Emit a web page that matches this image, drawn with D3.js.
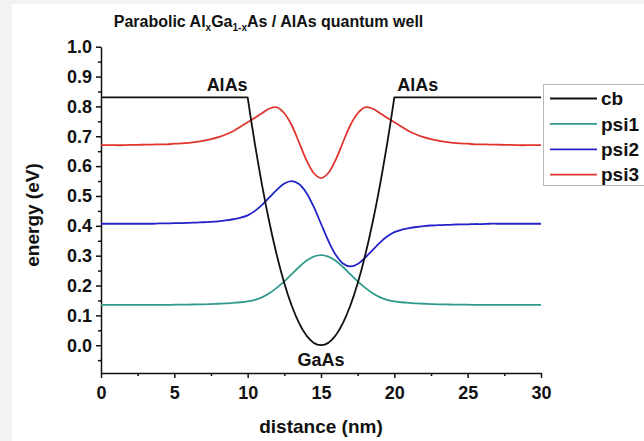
<!DOCTYPE html>
<html>
<head>
<meta charset="utf-8">
<script src="https://cdn.jsdelivr.net/npm/d3@7"></script>
<style>
  html, body { margin: 0; padding: 0; background: #f2f2f2; }
  svg { display: block; font-family: "Liberation Sans", Arial, sans-serif; }
</style>
</head>
<body>
<svg id="chart" width="644" height="441"></svg>
<script>
// Position along the structure (nm), sampled every 0.5 nm for the wavefunctions
const distance = [
  0, 0.5, 1, 1.5, 2, 2.5, 3, 3.5, 4, 4.5, 5, 5.5, 6, 6.5, 7, 7.5, 8, 8.5, 9, 9.5,
  10, 10.5, 11, 11.5, 12, 12.5, 13, 13.5, 14, 14.5, 15, 15.5, 16, 16.5, 17, 17.5,
  18, 18.5, 19, 19.5, 20, 20.5, 21, 21.5, 22, 22.5, 23, 23.5, 24, 24.5, 25, 25.5,
  26, 26.5, 27, 27.5, 28, 28.5, 29, 29.5, 30
];

// Ground state, offset to its energy level (eV)
const psi1 = [
  0.135, 0.135, 0.135, 0.135, 0.135, 0.135, 0.135, 0.135, 0.135, 0.135, 0.136, 0.136,
  0.136, 0.137, 0.137, 0.138, 0.139, 0.140, 0.142, 0.144, 0.147, 0.152, 0.161, 0.175,
  0.193, 0.214, 0.238, 0.262, 0.283, 0.297, 0.302, 0.297, 0.283, 0.262, 0.238, 0.214,
  0.193, 0.175, 0.161, 0.152, 0.147, 0.144, 0.142, 0.140, 0.139, 0.138, 0.137, 0.137,
  0.136, 0.136, 0.136, 0.135, 0.135, 0.135, 0.135, 0.135, 0.135, 0.135, 0.135, 0.135, 0.135
];

// First excited state
const psi2 = [
  0.407, 0.407, 0.407, 0.407, 0.407, 0.407, 0.407, 0.407, 0.408, 0.408, 0.409, 0.409,
  0.410, 0.411, 0.412, 0.413, 0.415, 0.418, 0.422, 0.427, 0.435, 0.450, 0.471, 0.496,
  0.521, 0.542, 0.550, 0.540, 0.511, 0.464, 0.407, 0.350, 0.303, 0.274, 0.264, 0.272,
  0.293, 0.318, 0.343, 0.364, 0.379, 0.387, 0.392, 0.396, 0.399, 0.401, 0.402, 0.403,
  0.404, 0.405, 0.405, 0.406, 0.406, 0.407, 0.407, 0.407, 0.407, 0.407, 0.407, 0.407, 0.407
];

// Second excited state
const psi3 = [
  0.670, 0.670, 0.670, 0.670, 0.671, 0.671, 0.672, 0.672, 0.673, 0.673, 0.675, 0.676,
  0.678, 0.681, 0.685, 0.690, 0.697, 0.706, 0.717, 0.732, 0.747, 0.762, 0.778, 0.793,
  0.797, 0.777, 0.737, 0.680, 0.621, 0.577, 0.560, 0.577, 0.621, 0.680, 0.737, 0.777,
  0.797, 0.793, 0.778, 0.762, 0.747, 0.732, 0.717, 0.706, 0.697, 0.690, 0.685, 0.681,
  0.678, 0.676, 0.675, 0.673, 0.673, 0.672, 0.672, 0.671, 0.671, 0.670, 0.670, 0.670, 0.670
];

// Conduction band edge: flat AlAs barriers, parabolic graded well
const cbDistance = [
  0, 10, 10.25, 10.5, 10.75, 11, 11.25, 11.5, 11.75, 12, 12.25, 12.5, 12.75, 13, 13.25,
  13.5, 13.75, 14, 14.25, 14.5, 14.75, 15, 15.25, 15.5, 15.75, 16, 16.25, 16.5, 16.75,
  17, 17.25, 17.5, 17.75, 18, 18.25, 18.5, 18.75, 19, 19.25, 19.5, 19.75, 20, 30
];
const cb = [
  0.830, 0.830, 0.749, 0.672, 0.600, 0.531, 0.467, 0.407, 0.351, 0.299, 0.251, 0.208,
  0.168, 0.133, 0.102, 0.075, 0.052, 0.033, 0.019, 0.008, 0.002, 0.000, 0.002, 0.008,
  0.019, 0.033, 0.052, 0.075, 0.102, 0.133, 0.168, 0.208, 0.251, 0.299, 0.351, 0.407,
  0.467, 0.531, 0.600, 0.672, 0.749, 0.830, 0.830
];

const seriesNames = ["cb", "psi1", "psi2", "psi3"];
const seriesColors = ["#111111", "#2f9a8c", "#2323c8", "#e0352f"];

const xMajorTicks = [0, 5, 10, 15, 20, 25, 30];
const xMinorTicks = [2.5, 7.5, 12.5, 17.5, 22.5, 27.5];
const yMajorTicks = [0.0, 0.1, 0.2, 0.3, 0.4, 0.5, 0.6, 0.7, 0.8, 0.9, 1.0];
const yMinorTicks = [-0.05, 0.05, 0.15, 0.25, 0.35, 0.45, 0.55, 0.65, 0.75, 0.85, 0.95];

const regionLabels = [
  { text: "AlAs", x: 8.6, y: 0.85 },
  { text: "AlAs", x: 21.6, y: 0.85 },
  { text: "GaAs", x: 15, y: -0.07 }
];

const svg = d3.select("#chart");
const W = 644, H = 441;

// Page background: white sheet on a light grey surround
svg.append("rect").attr("width", W).attr("height", H).attr("fill", "#f2f2f2");
svg.append("rect").attr("x", 12).attr("y", 4).attr("width", W - 12).attr("height", H - 4).attr("fill", "#ffffff");

const x = d3.scaleLinear().domain([0, 30]).range([101, 541]);
const y = d3.scaleLinear().domain([-0.093, 1.0]).range([373, 46.7]);

// Axes: major ticks with labels, minor ticks without
const fmt = d3.format(".1f");
svg.append("g").attr("transform", `translate(0,${y.range()[0]})`)
  .call(d3.axisBottom(x).tickValues(xMajorTicks).tickSize(5).tickSizeOuter(0).tickPadding(8).tickFormat(d3.format("d")));
svg.append("g").attr("transform", `translate(0,${y.range()[0]})`)
  .call(d3.axisBottom(x).tickValues(xMinorTicks).tickSize(3).tickSizeOuter(0).tickFormat(""))
  .select(".domain").remove();

svg.append("g").attr("transform", `translate(${x.range()[0]},0)`)
  .call(d3.axisLeft(y).tickValues(yMajorTicks).tickSize(5).tickSizeOuter(0).tickPadding(4).tickFormat(fmt));
svg.append("g").attr("transform", `translate(${x.range()[0]},0)`)
  .call(d3.axisLeft(y).tickValues(yMinorTicks).tickSize(3).tickSizeOuter(0).tickFormat(""))
  .select(".domain").remove();

svg.selectAll(".tick line, .domain").attr("stroke", "#111").attr("stroke-width", 1.5);
svg.selectAll(".tick text")
  .attr("fill", "#111")
  .style("font-family", "'Liberation Sans', Arial, sans-serif")
  .style("font-size", "18px")
  .style("font-weight", "bold");

// Curves
const waveLine = d3.line()
  .x((d, i) => x(distance[i]))
  .y(d => y(d))
  .curve(d3.curveCatmullRom.alpha(0.5));
const cbLine = d3.line()
  .x((d, i) => x(cbDistance[i]))
  .y(d => y(d));

const plot = svg.append("g").attr("fill", "none").attr("stroke-width", 1.8).attr("stroke-linejoin", "round");
plot.append("path").attr("d", waveLine(psi1)).attr("stroke", seriesColors[1]);
plot.append("path").attr("d", waveLine(psi2)).attr("stroke", seriesColors[2]);
plot.append("path").attr("d", waveLine(psi3)).attr("stroke", seriesColors[3]);
plot.append("path").attr("d", cbLine(cb)).attr("stroke", seriesColors[0]);

// Region annotations
svg.append("g").selectAll("text").data(regionLabels).join("text")
  .attr("x", d => x(d.x))
  .attr("y", d => y(d.y))
  .attr("text-anchor", "middle")
  .attr("fill", "#111")
  .style("font-size", "18px")
  .style("font-weight", "bold")
  .text(d => d.text);

// Title with subscripts
const title = svg.append("text")
  .attr("x", 268.5).attr("y", 27)
  .attr("text-anchor", "middle")
  .attr("fill", "#111")
  .style("font-size", "16px")
  .style("font-weight", "bold");
title.append("tspan").text("Parabolic Al");
title.append("tspan").attr("dy", 4).style("font-size", "10px").text("x");
title.append("tspan").attr("dy", -4).text("Ga");
title.append("tspan").attr("dy", 4).style("font-size", "10px").text("1-x");
title.append("tspan").attr("dy", -4).text("As / AlAs quantum well");

// Axis titles
svg.append("text")
  .attr("x", (x.range()[0] + x.range()[1]) / 2).attr("y", 433)
  .attr("text-anchor", "middle").attr("fill", "#111")
  .style("font-size", "19px").style("font-weight", "bold")
  .text("distance (nm)");
svg.append("text")
  .attr("transform", `translate(39,215) rotate(-90)`)
  .attr("text-anchor", "middle").attr("fill", "#111")
  .style("font-size", "19px").style("font-weight", "bold")
  .text("energy (eV)");

// Legend
const legend = svg.append("g");
legend.append("rect")
  .attr("x", 543.5).attr("y", 84.5).attr("width", 120).attr("height", 101)
  .attr("fill", "#fff").attr("stroke", "#b8b8b8").attr("stroke-width", 1);
seriesNames.forEach((name, i) => {
  const ry = 98.5 + i * 25.4;
  legend.append("line")
    .attr("x1", 550).attr("x2", 597).attr("y1", ry).attr("y2", ry)
    .attr("stroke", seriesColors[i]).attr("stroke-width", 1.8);
  legend.append("text")
    .attr("x", 601).attr("y", ry).attr("dy", "0.35em")
    .attr("fill", "#111")
    .style("font-size", "19px").style("font-weight", "bold")
    .text(name);
});
</script>
</body>
</html>
